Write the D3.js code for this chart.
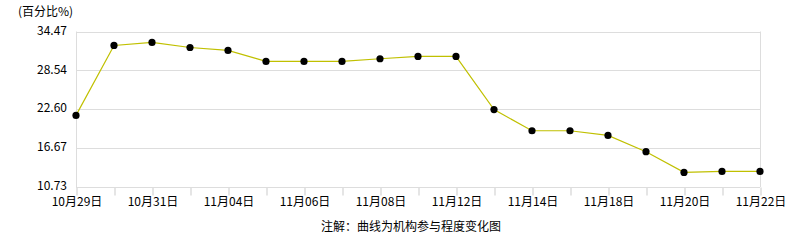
<!DOCTYPE html>
<html>
<head>
<meta charset="utf-8">
<script src="https://cdn.jsdelivr.net/npm/d3@7"></script>
<style>
  body { margin: 0; background: #fff; }
  text { font-family: "SimSun", "Noto Sans CJK SC", "DejaVu Sans", sans-serif; font-size: 12px; fill: #000; }
</style>
</head>
<body>
<div id="chart"></div>
<script>
// trading days shown on the x axis
const dates = ["10月29日", "10月30日", "10月31日", "11月01日", "11月04日", "11月05日", "11月06日", "11月07日",
  "11月08日", "11月11日", "11月12日", "11月13日", "11月14日", "11月15日", "11月18日", "11月19日",
  "11月20日", "11月21日", "11月22日"];

// participation degree, percent
const participation = [21.66, 32.34, 32.80, 32.03, 31.58, 29.90, 29.90, 29.90, 30.31, 30.66, 30.66,
  22.55, 19.32, 19.32, 18.60, 16.12, 12.96, 13.11, 13.11];

const yTicks = [10.73, 16.665, 22.60, 28.54, 34.47];
const yTickLabels = ["10.73", "16.67", "22.60", "28.54", "34.47"];

const width = 786, height = 240;
const margin = { top: 31.5, right: 26, bottom: 53, left: 76 };

const svg = d3.select("#chart").append("svg")
  .attr("width", width)
  .attr("height", height);

const x = d3.scalePoint()
  .domain(dates)
  .range([margin.left, width - margin.right]);

const y = d3.scaleLinear()
  .domain([10.73, 34.47])
  .range([height - margin.bottom, margin.top]);

// horizontal grid
svg.append("g")
  .selectAll("line")
  .data(yTicks)
  .enter()
  .append("line")
  .attr("x1", margin.left)
  .attr("x2", width - margin.right)
  .attr("y1", (d) => Math.round(y(d)) + 0.5)
  .attr("y2", (d) => Math.round(y(d)) + 0.5)
  .attr("stroke", "#dddddd");

// left and right borders
svg.append("line")
  .attr("x1", margin.left + 0.5).attr("x2", margin.left + 0.5)
  .attr("y1", margin.top).attr("y2", height - margin.bottom)
  .attr("stroke", "#dddddd");
svg.append("line")
  .attr("x1", width - margin.right + 0.5).attr("x2", width - margin.right + 0.5)
  .attr("y1", margin.top).attr("y2", height - margin.bottom)
  .attr("stroke", "#dddddd");

// x axis ticks below the plot
const xAxis = d3.axisBottom(x)
  .tickSize(8)
  .tickFormat((d, i) => (i % 2 === 0 ? d : ""));

const gx = svg.append("g")
  .attr("transform", `translate(0.5, ${Math.round(y(10.73)) + 0.5})`)
  .call(xAxis);
gx.select(".domain").remove();
gx.selectAll(".tick line").attr("stroke", "#dddddd").attr("stroke-width", 1.5);
gx.selectAll(".tick text")
  .attr("y", 14)
  .attr("dy", "0.35em")
  .style("font-size", "12px")
  .style("font-family", '"SimSun", "Noto Sans CJK SC", sans-serif');

// y labels
svg.append("g")
  .selectAll("text")
  .data(yTicks)
  .enter()
  .append("text")
  .attr("x", 67)
  .attr("y", (d) => y(d) - 1)
  .attr("dy", "0.35em")
  .attr("text-anchor", "end")
  .text((d, i) => yTickLabels[i]);

// unit label
svg.append("text")
  .attr("x", 18)
  .attr("y", 12)
  .attr("dy", "0.35em")
  .text("(百分比%)");

// the curve
const line = d3.line()
  .x((d, i) => x(dates[i]))
  .y((d) => y(d));

svg.append("path")
  .datum(participation)
  .attr("d", line)
  .attr("fill", "none")
  .attr("stroke", "#c0c000")
  .attr("stroke-width", 1.2);

svg.append("g")
  .selectAll("circle")
  .data(participation)
  .enter()
  .append("circle")
  .attr("cx", (d, i) => x(dates[i]))
  .attr("cy", (d) => y(d))
  .attr("r", 3.6)
  .attr("fill", "#000");

// footnote
svg.append("text")
  .attr("x", 411)
  .attr("y", 227)
  .attr("dy", "0.35em")
  .attr("text-anchor", "middle")
  .text("注解：曲线为机构参与程度变化图");
</script>
</body>
</html>
